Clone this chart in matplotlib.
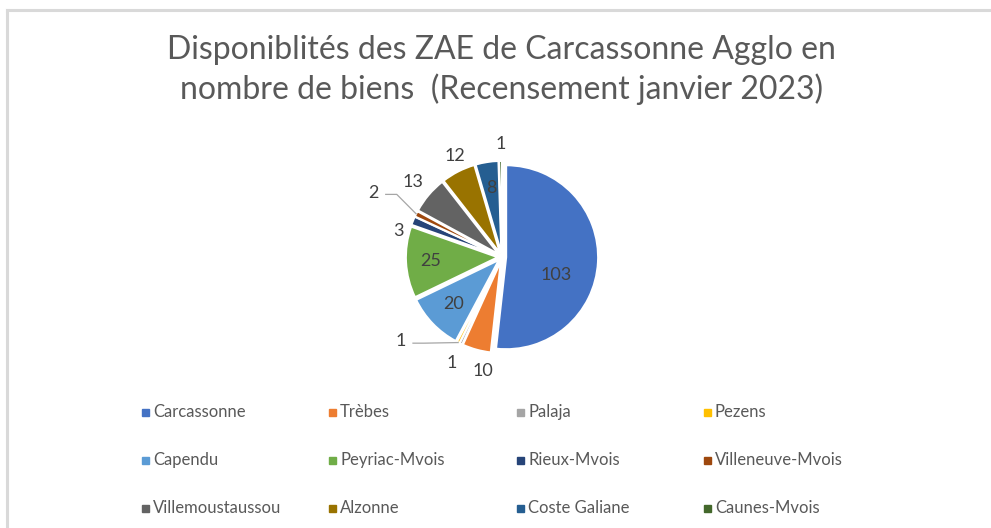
import matplotlib.pyplot as plt
from matplotlib.lines import Line2D
from matplotlib.patches import Rectangle
import numpy as np

# data
communes = ['Carcassonne', 'Trèbes', 'Palaja', 'Pezens', 'Capendu', 'Peyriac-Mvois',
            'Rieux-Mvois', 'Villeneuve-Mvois', 'Villemoustaussou', 'Alzonne',
            'Coste Galiane', 'Caunes-Mvois']
biens = [103, 10, 1, 1, 20, 25, 3, 2, 13, 12, 8, 1]
couleurs = ['#4472C4', '#ED7D31', '#A5A5A5', '#FFC000', '#5B9BD5', '#70AD47',
            '#264478', '#9E480E', '#636363', '#997300', '#255E91', '#43682B']

# label placement (radius factor, angle tweak in degrees) - layout only
lab_r = [0.62, 1.26, 1.28, 1.43, 0.73, 0.78, 1.16, 1.56, 1.27, 1.21, 0.76, 1.23]
lab_da = [-15, 6, 0, -23, 0, 0, 8, 0, 0, -2, 0, 0]
leader = [False, False, False, True, False, False, False, True, False, False, False, False]

W, H = 991, 528
fig = plt.figure(figsize=(W / 100, H / 100), dpi=100)
fig.patch.set_facecolor('white')

# chart frame (top and left edges visible)
fig.add_artist(Line2D([7 / W, 7 / W], [0, 1 - 10 / H], color='#d9d9d9', lw=2.2,
                      transform=fig.transFigure))
fig.add_artist(Line2D([7 / W, 1], [1 - 10 / H, 1 - 10 / H], color='#d9d9d9', lw=2.2,
                      transform=fig.transFigure))

txt_font = ['Lato', 'DejaVu Sans']
fig.text(0.506, 1 - 70 / H, 'Disponiblités des ZAE de Carcassonne Agglo en\n'
         'nombre de biens  (Recensement janvier 2023)',
         ha='center', va='center', fontsize=23, color='#595959',
         family=txt_font, linespacing=1.3)

# pie axes: center at (~500, 257) px, radius ~ 92 px
cx, cy, rpx = 502, 257, 92
half = 200
ax = fig.add_axes([(cx - half) / W, (H - cy - half) / H, 2 * half / W, 2 * half / H])

wedges, _ = ax.pie(biens, colors=couleurs, startangle=90, counterclock=False,
                   explode=[0.045] * len(biens),
                   wedgeprops=dict(edgecolor='white', linewidth=1.5))
L = half / rpx
ax.set_xlim(-L, L)
ax.set_ylim(-L, L)
ax.set_aspect('equal')
ax.axis('off')

for w, v, r, da, ld in zip(wedges, biens, lab_r, lab_da, leader):
    mid = np.deg2rad((w.theta1 + w.theta2) / 2)
    a = mid + np.deg2rad(da)
    x, y = r * np.cos(a), r * np.sin(a)
    ax.text(x, y, str(v), ha='center', va='center', fontsize=13,
            color='#404040', family=txt_font)
    if ld:
        ex, ey = 1.0 * np.cos(mid) + w.center[0], 1.0 * np.sin(mid) + w.center[1]
        sx = x + 0.13
        ax.plot([sx, sx + 0.12, ex], [y - 0.02, y - 0.02, ey], color='#a6a6a6', lw=0.9)

# legend drawn as a 4-column grid with equal spacing, like the reference
col_x = [145, 332, 520, 707]
row_y = [412, 460, 508]
for i, (name, c) in enumerate(zip(communes, couleurs)):
    px = col_x[i % 4]
    py = row_y[i // 4]
    fig.add_artist(Rectangle(((px - 3.5) / W, (H - py - 3.5) / H), 7 / W, 7 / H,
                             color=c, transform=fig.transFigure))
    fig.text((px + 8) / W, 1 - py / H, name, ha='left', va='center',
             fontsize=12, color='#595959', family=txt_font)

fig.savefig('out.png', dpi=100)
